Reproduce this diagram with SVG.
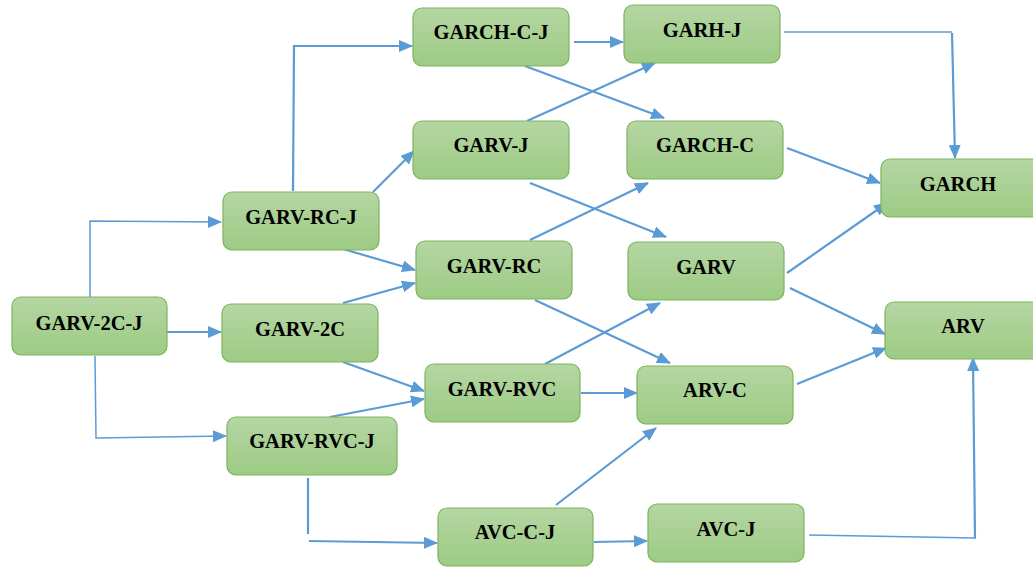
<svg xmlns="http://www.w3.org/2000/svg" width="1033" height="567" viewBox="0 0 1033 567">
<defs>
<linearGradient id="g" x1="0" y1="0" x2="0" y2="1">
<stop offset="0" stop-color="#b5d6a3"/>
<stop offset="1" stop-color="#9dcb84"/>
</linearGradient>
<marker id="a" markerUnits="userSpaceOnUse" markerWidth="14" markerHeight="12" refX="13" refY="6" orient="auto">
<path d="M0,0 L14,6 L0,12 z" fill="#5b9bd5"/>
</marker>
</defs>
<style>
.n rect{fill:url(#g);stroke:#7cb45e;stroke-width:1.2}
.n text{font-family:"Liberation Serif","Times New Roman",serif;font-weight:bold;font-size:20.5px;fill:#000;text-anchor:middle}
.c path{fill:none;stroke:#5b9bd5;stroke-width:2.2;marker-end:url(#a)}
.c path.t{stroke-width:1.5}
.c path.p{marker-end:none}
</style>
<rect width="1033" height="567" fill="#fff"/>
<g class="c">
<path class="t" d="M90,297 L90,221 L221,222"/>
<path d="M167,332 L221,332"/>
<path class="t" d="M95,356 L96,438 L226,436"/>
<path d="M293,191 L294,46 L412,46"/>
<path d="M373,192 L414,151"/>
<path d="M343,249 L415,270"/>
<path d="M343,303 L415,283"/>
<path d="M343,362 L424,391"/>
<path d="M330,417 L424,399"/>
<path class="p" d="M308,478 L308,534"/>
<path d="M309,541 L437,543"/>
<path d="M574,42 L623,42"/>
<path d="M525,66 L664,118"/>
<path d="M527,121 L655,63"/>
<path d="M530,183 L666,237"/>
<path d="M530,240 L648,183"/>
<path d="M535,300 L670,363"/>
<path d="M545,364 L660,303"/>
<path d="M581,393 L637,393"/>
<path d="M556,505 L656,428"/>
<path d="M594,542 L647,541"/>
<path class="t p" d="M784,32 L952,32"/>
<path d="M952,33 L955,158"/>
<path d="M787,148 L880,183"/>
<path d="M787,273 L887,203"/>
<path d="M790,288 L885,334"/>
<path d="M797,384 L886,348"/>
<path class="t p" d="M809,535 L976,538"/>
<path d="M975,538 L973,358"/>
</g>
<g id="GARV-2C-J" class="n"><rect x="12" y="297" width="155" height="58" rx="9"/><text x="89" y="330">GARV-2C-J</text></g>
<g id="GARV-RC-J" class="n"><rect x="223" y="192" width="156" height="58" rx="9"/><text x="301" y="224">GARV-RC-J</text></g>
<g id="GARV-2C" class="n"><rect x="222" y="304" width="156" height="58" rx="9"/><text x="300" y="336">GARV-2C</text></g>
<g id="GARV-RVC-J" class="n"><rect x="227" y="417" width="170" height="58" rx="9"/><text x="312" y="448">GARV-RVC-J</text></g>
<g id="GARCH-C-J" class="n"><rect x="413" y="8" width="156" height="58" rx="9"/><text x="491" y="39">GARCH-C-J</text></g>
<g id="GARV-J" class="n"><rect x="413" y="121" width="156" height="58" rx="9"/><text x="491" y="152">GARV-J</text></g>
<g id="GARV-RC" class="n"><rect x="416" y="241" width="156" height="58" rx="9"/><text x="494" y="273">GARV-RC</text></g>
<g id="GARV-RVC" class="n"><rect x="425" y="364" width="155" height="58" rx="9"/><text x="502" y="396">GARV-RVC</text></g>
<g id="AVC-C-J" class="n"><rect x="438" y="508" width="155" height="58" rx="9"/><text x="515" y="539">AVC-C-J</text></g>
<g id="GARH-J" class="n"><rect x="624" y="5" width="156" height="58" rx="9"/><text x="702" y="37">GARH-J</text></g>
<g id="GARCH-C" class="n"><rect x="627" y="121" width="156" height="58" rx="9"/><text x="705" y="152">GARCH-C</text></g>
<g id="GARV" class="n"><rect x="628" y="242" width="156" height="58" rx="9"/><text x="706" y="274">GARV</text></g>
<g id="ARV-C" class="n"><rect x="637" y="366" width="156" height="58" rx="9"/><text x="715" y="397">ARV-C</text></g>
<g id="AVC-J" class="n"><rect x="648" y="504" width="156" height="58" rx="9"/><text x="726" y="536">AVC-J</text></g>
<g id="GARCH" class="n"><rect x="881" y="159" width="160" height="58" rx="9"/><text x="958" y="191">GARCH</text></g>
<g id="ARV" class="n"><rect x="885" y="302" width="160" height="57" rx="9"/><text x="963" y="333">ARV</text></g>
</svg>
